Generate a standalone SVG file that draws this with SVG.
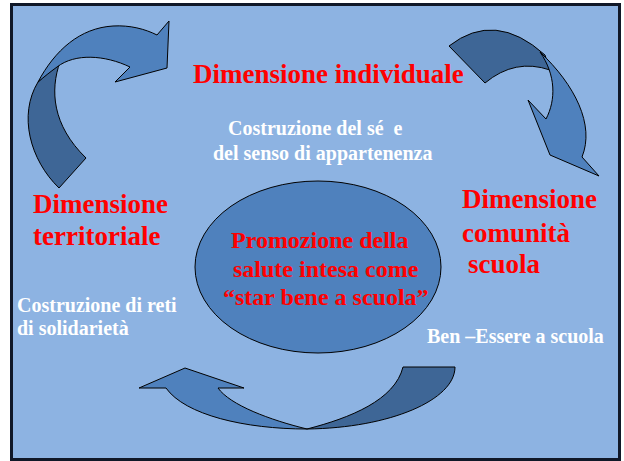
<svg xmlns="http://www.w3.org/2000/svg" width="624" height="461" viewBox="0 0 624 461">
<style>
.red{font-family:"Liberation Serif","Times New Roman",serif;font-weight:bold;fill:#FF0000;font-size:27px}
.mid{font-family:"Liberation Serif","Times New Roman",serif;font-weight:bold;fill:#FF0000;font-size:24px}
.wht{font-family:"Liberation Serif","Times New Roman",serif;font-weight:bold;fill:#FFFFFF;font-size:20px}
.lt{fill:#4F81BD;stroke:#000;stroke-width:1;stroke-linejoin:miter}
.dk{fill:#3E6696;stroke:#000;stroke-width:1;stroke-linejoin:miter}
</style>
<rect x="11.5" y="4.5" width="608" height="455" fill="#8DB3E2" stroke="#101828" stroke-width="3"/>
<g id="connectors">
  <g id="arrow-left">
    <path class="dk" d="M59,188 C30,160 18,115 38,82 L60,62 C50,90 52,125 86,158 Z"/>
    <path class="lt" d="M38,82 C55,50 80,28 113,26 C130,25 145,29 157,35 L169,21 L167,68 L115,82 L130,67 C105,55 75,53 57,67 C50,72 44,77 38,82 Z"/>
  </g>
  <g id="arrow-right">
    <path class="dk" d="M449,46 Q495,10 545,55 L550,70 Q515,58 485,83 Z"/>
    <path class="lt" d="M540,52 C575,85 595,125 582,157 L599,176 L550,155 L528,100 L546,119 C556,100 556,75 540,52 Z"/>
  </g>
  <g id="arrow-bottom">
    <path class="dk" d="M403,367 L455,367 C455,400 390,428 307,429 C350,418 395,400 403,367 Z"/>
    <path class="lt" d="M185,368 L244,388 L218,388 C230,405 270,420 307,429 C245,429 185,415 166,388 L139,388 Z"/>
  </g>
</g>
<g id="node-center">
  <ellipse cx="318" cy="267" rx="123" ry="86" fill="#4F81BD" stroke="#000" stroke-width="1"/>
  <text class="mid" x="231" y="248">Promozione della</text>
  <text class="mid" x="233" y="277">salute intesa come</text>
  <text class="mid" x="223" y="305">“star bene a scuola”</text>
</g>
<g id="node-individuale">
  <text class="red" x="193" y="83">Dimensione individuale</text>
  <text class="wht" x="228" y="135" xml:space="preserve">Costruzione del sé  e</text>
  <text class="wht" x="213" y="160">del senso di appartenenza</text>
</g>
<g id="node-territoriale">
  <text class="red" x="33" y="213">Dimensione</text>
  <text class="red" x="33" y="245">territoriale</text>
  <text class="wht" x="17" y="312">Costruzione di reti</text>
  <text class="wht" x="17" y="335">di solidarietà</text>
</g>
<g id="node-comunita">
  <text class="red" x="462" y="208">Dimensione</text>
  <text class="red" x="462" y="242">comunità</text>
  <text class="red" x="468" y="273">scuola</text>
  <text class="wht" x="427" y="343">Ben –Essere a scuola</text>
</g>
</svg>
